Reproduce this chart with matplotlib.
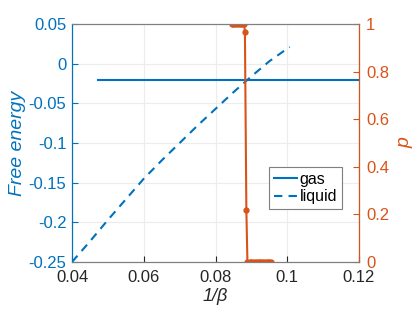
import matplotlib
matplotlib.use("Agg")
import matplotlib.pyplot as plt

plt.rcParams['font.family'] = ['Liberation Sans', 'DejaVu Sans']

BLUE = '#0072BD'
ORANGE = '#D95319'
GRAY = '#7f7f7f'

# gas free energy
x_gas = [0.0472, 0.06, 0.08, 0.10, 0.12]
f_gas = [-0.0205, -0.0205, -0.0205, -0.0205, -0.0205]

# liquid free energy
x_liq = [0.040, 0.045, 0.050, 0.055, 0.060, 0.065, 0.070, 0.075, 0.080,
         0.085, 0.090, 0.095, 0.100, 0.1007]
f_liq = [-0.250, -0.224, -0.197, -0.171, -0.145, -0.122, -0.100, -0.078,
         -0.057, -0.036, -0.016, 0.003, 0.019, 0.021]

# p
x_p = [0.0845, 0.0850, 0.0855, 0.0860, 0.0865, 0.0870, 0.0875, 0.0880,
       0.0882, 0.0886, 0.0889, 0.0895, 0.0900, 0.0905, 0.0910, 0.0915,
       0.0920, 0.0925, 0.0930, 0.0935, 0.0940, 0.0945, 0.0950, 0.0956]
p_vals = [1, 1, 1, 1, 1, 1, 1, 1,
          0.965, 0.22, 0, 0, 0, 0, 0, 0,
          0, 0, 0, 0, 0, 0, 0, 0]

x_ticks = [0.04, 0.06, 0.08, 0.1, 0.12]
x_ticklabels = ['0.04', '0.06', '0.08', '0.1', '0.12']
y_ticks = [0.05, 0, -0.05, -0.1, -0.15, -0.2, -0.25]
y_ticklabels = ['0.05', '0', '-0.05', '-0.1', '-0.15', '-0.2', '-0.25']
p_ticks = [0, 0.2, 0.4, 0.6, 0.8, 1]
p_ticklabels = ['0', '0.2', '0.4', '0.6', '0.8', '1']

fig = plt.figure(figsize=(4.15, 3.12), dpi=100)
ax1 = fig.add_axes([72/415, 50/312, 287/415, 238/312])

ax1.plot(x_gas, f_gas, '-', color=BLUE, lw=1.5, label='gas')
ax1.plot(x_liq, f_liq, '--', color=BLUE, lw=1.5, label='liquid', dashes=(4, 3))
ax1.set_xlim(0.04, 0.12)
ax1.set_ylim(-0.25, 0.05)
ax1.set_xticks(x_ticks)
ax1.set_xticklabels(x_ticklabels)
ax1.set_yticks(y_ticks)
ax1.set_yticklabels(y_ticklabels)
ax1.grid(True, color='#ececec', lw=0.8)
ax1.set_axisbelow(True)
ax1.tick_params(axis='x', direction='in', length=4, labelsize=12,
                colors='#262626', pad=6, top=False)
ax1.tick_params(axis='y', direction='in', length=4, labelsize=12,
                colors=BLUE, pad=4)
ax1.spines['left'].set_color(BLUE)
ax1.spines['bottom'].set_color(GRAY)
ax1.spines['top'].set_color(GRAY)
for s in ax1.spines.values():
    s.set_linewidth(0.8)
ax1.set_ylabel('Free energy', color=BLUE, fontsize=14, style='italic', labelpad=2)
ax1.set_xlabel('1/β', color='#262626', fontsize=13, style='italic', labelpad=2)

ax2 = ax1.twinx()
ax2.plot(x_p, p_vals, '-o', color=ORANGE, lw=1.5, ms=3.5, mfc=ORANGE, mec=ORANGE)
ax2.set_ylim(0, 1)
ax2.set_yticks(p_ticks)
ax2.set_yticklabels(p_ticklabels)
ax2.tick_params(axis='y', direction='in', length=4, labelsize=12,
                colors=ORANGE, pad=5)
ax2.spines['right'].set_color(ORANGE)
ax2.spines['left'].set_color(BLUE)
ax2.spines['top'].set_color(GRAY)
ax2.spines['bottom'].set_color(GRAY)
for s in ax2.spines.values():
    s.set_linewidth(0.8)
ax2.set_ylabel('p', color=ORANGE, fontsize=14, style='italic', labelpad=5)

leg = ax2.legend(*ax1.get_legend_handles_labels(), loc='upper left',
                 bbox_to_anchor=(0.687, 0.398),
                 fontsize=11.5, fancybox=False, framealpha=1, edgecolor=GRAY,
                 handlelength=1.45, handletextpad=0.15, borderpad=0.3,
                 labelspacing=0.15, borderaxespad=0)
leg.get_frame().set_linewidth(0.8)

fig.savefig('out.png', dpi=100)
